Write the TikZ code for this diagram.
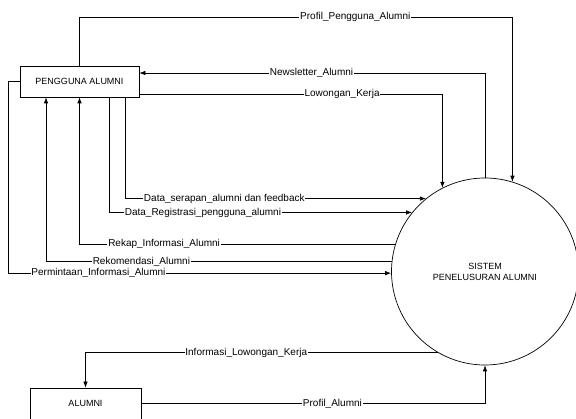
\documentclass[tikz,border=0pt]{standalone}
\usepackage{fontspec}
\setmainfont{Liberation Sans}
\usetikzlibrary{shapes.geometric, arrows.meta}
\tikzstyle{entity} = [rectangle, minimum height=31pt, inner sep=0pt, text centered, draw=black, fill=white, font=\fontsize{9}{10}\selectfont]
\tikzstyle{process} = [circle, minimum size=187pt, inner sep=0pt, align=center, draw=black, font=\fontsize{9}{11}\selectfont]
\tikzstyle{lbl} = [fill=white, inner xsep=0.8pt, inner ysep=1pt, font=\fontsize{10}{11}\selectfont]
\tikzstyle{arrow} = [->,>={Latex[length=6pt,width=4.5pt]}]

\begin{document}
\begin{tikzpicture}[x=1pt, y=-1pt, line width=0.7pt]
			\useasboundingbox (0,0) rectangle (576,419);
			\node[entity, minimum width=119pt] (pengguna) at (79.5,81.5) {PENGGUNA ALUMNI};
			\node[entity, minimum width=111pt] (alumni) at (85.5,403.5) {ALUMNI};
			\node[process] (sys) at (485,271.5) {SISTEM\\PENELUSURAN ALUMNI};
			
			\draw [arrow] (pengguna.north) -- (pengguna.north |- 0,17) -- node[lbl, pos=0.637] {Profil\_Pengguna\_Alumni} (sys.73 |- 0,17) -- (sys.73);
			\draw [arrow] (sys.north) -- (sys.north |- 0,73) -- node[lbl, pos=0.502] {Newsletter\_Alumni} (pengguna.east |- 0,73);
			\draw [arrow] (pengguna.east |- 0,94) -- node[lbl, pos=0.669] {Lowongan\_Kerja} (sys.117 |- 0,94) -- (sys.117);
			\draw [arrow] (125,0 |- pengguna.south) |- node[lbl, pos=0.665] {Data\_serapan\_alumni dan feedback} (sys.129);
			\draw [arrow] (109,0 |- pengguna.south) |- node[lbl, pos=0.655] {Data\_Registrasi\_pengguna\_alumni} (sys.141);
			\draw [arrow] (sys.163) -| node[lbl, pos=0.366] {Rekap\_Informasi\_Alumni} (pengguna.south);
			\draw [arrow] (sys.174) -| node[lbl, pos=0.362] {Rekomendasi\_Alumni} (46,0 |- pengguna.south);
			\draw [arrow] (pengguna.west) -- (8,0 |- pengguna.west) |- node[lbl, pos=0.618] {Permintaan\_Informasi\_Alumni} (sys.181);
			
			\draw [arrow] (sys.240) -| node[lbl, pos=0.272] {Informasi\_Lowongan\_Kerja} (alumni.north);
			\draw [arrow] (alumni.east) -| node[lbl, pos=0.278] {Profil\_Alumni} (sys.south);
			
		\end{tikzpicture}
\end{document}
